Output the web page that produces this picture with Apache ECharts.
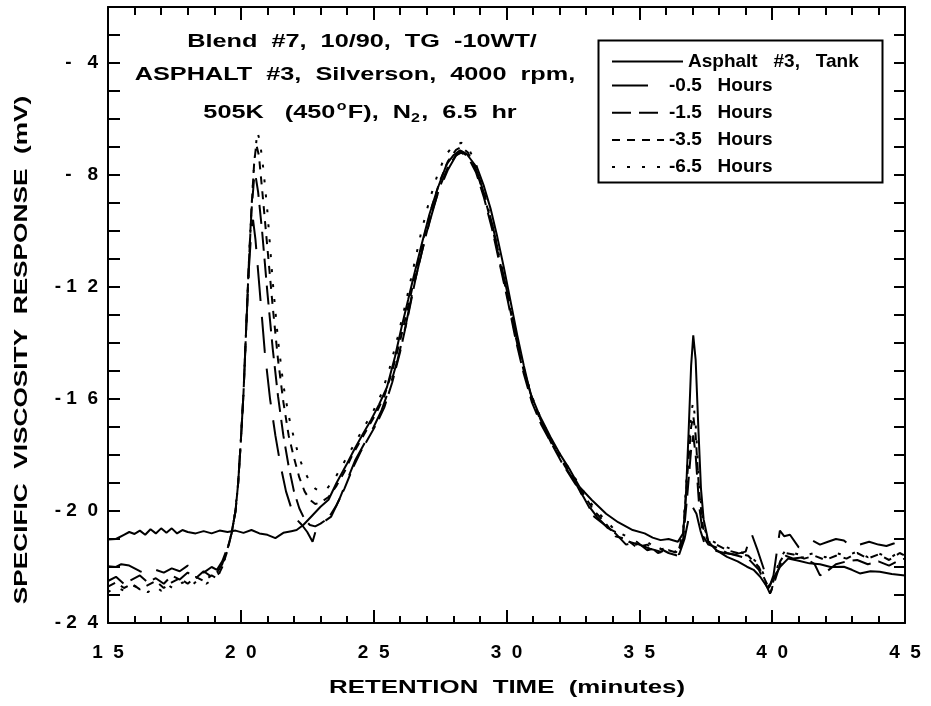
<!DOCTYPE html>
<html>
<head>
<meta charset="utf-8">
<script src="https://cdn.jsdelivr.net/npm/echarts@6/dist/echarts.min.js"></script>
<style>
  html, body { margin: 0; padding: 0; background: #fff; }
  #chart { width: 931px; height: 706px; }
</style>
</head>
<body>
<div id="chart"></div>
<script>
// retention time (min) vs specific viscosity response (mV)
const tank = [[15.0,-21.02],[15.3,-21.0],[15.6,-20.85],[15.8,-20.75],[16.0,-20.82],[16.2,-20.7],[16.4,-20.85],[16.6,-20.65],[16.8,-20.8],[17.0,-20.62],[17.2,-20.78],[17.4,-20.62],[17.6,-20.8],[17.8,-20.68],[18.0,-20.75],[18.3,-20.8],[18.6,-20.72],[18.9,-20.8],[19.2,-20.7],[19.5,-20.75],[19.8,-20.7],[20.1,-20.78],[20.4,-20.68],[20.7,-20.8],[21.0,-20.85],[21.3,-20.97],[21.6,-20.78],[21.9,-20.72],[22.1,-20.68],[22.35,-20.5],[22.7,-20.15],[23.0,-19.85],[23.3,-19.6],[23.6,-19.0],[24.0,-18.3],[24.3,-17.75],[24.6,-17.24],[24.9,-16.75],[25.2,-16.2],[25.5,-15.58],[25.8,-14.5],[26.05,-13.44],[26.3,-12.45],[26.5,-11.65],[26.8,-10.5],[27.1,-9.4],[27.4,-8.5],[27.75,-7.61],[28.0,-7.3],[28.25,-7.12],[28.5,-7.25],[28.9,-7.75],[29.15,-8.4],[29.4,-9.2],[29.65,-10.2],[29.9,-11.3],[30.15,-12.5],[30.4,-13.7],[30.65,-14.8],[30.9,-15.8],[31.25,-16.6],[31.65,-17.35],[32.0,-17.95],[32.4,-18.55],[32.75,-19.14],[33.2,-19.6],[33.75,-20.1],[34.2,-20.4],[34.75,-20.68],[35.2,-20.8],[35.5,-20.95],[35.8,-21.04],[36.1,-21.0],[36.45,-21.1],[36.65,-20.8],[36.75,-19.5],[36.85,-17.3],[36.95,-14.8],[37.03,-13.73],[37.12,-14.6],[37.22,-17.0],[37.32,-19.2],[37.42,-20.3],[37.6,-21.1],[37.9,-21.4],[38.3,-21.64],[38.7,-21.8],[39.05,-21.99],[39.3,-22.1],[39.55,-22.35],[39.85,-22.77],[40.05,-22.4],[40.3,-21.99],[40.6,-21.7],[41.0,-21.78],[41.4,-21.87],[41.8,-21.9],[42.2,-22.0],[42.7,-21.99],[43.0,-22.1],[43.3,-22.23],[43.7,-22.15],[44.05,-22.17],[44.5,-22.25],[45.0,-22.3]];

const h05 = [[15.0,-21.97],[15.3,-22.0],[15.5,-21.9],[15.8,-21.95],[16.0,-22.05],[16.2,-22.15],[16.5,-22.25],[16.8,-22.1],[17.1,-22.2],[17.4,-22.05],[17.7,-22.15],[18.0,-21.95],[18.3,-22.1],[18.6,-22.2],[18.9,-22.0],[19.1,-22.1],[19.3,-21.8],[19.5,-21.3],[19.65,-20.8],[19.8,-20.0],[19.9,-19.0],[20.0,-17.5],[20.1,-15.8],[20.2,-13.5],[20.3,-11.4],[20.4,-9.9],[20.46,-9.6],[20.55,-10.3],[20.7,-12.0],[20.9,-14.3],[21.1,-16.0],[21.3,-17.3],[21.5,-18.4],[21.7,-19.3],[21.9,-19.9],[22.1,-20.3],[22.3,-20.5],[22.5,-20.75],[22.7,-21.1],[22.85,-20.6],[23.1,-20.4],[23.4,-20.2],[23.7,-19.6],[24.0,-18.9],[24.3,-18.2],[24.7,-17.5],[25.0,-17.0],[25.3,-16.4],[25.6,-15.6],[25.9,-14.6],[26.2,-13.4],[26.5,-12.0],[26.8,-10.8],[27.1,-9.7],[27.4,-8.7],[27.8,-7.8],[28.1,-7.3],[28.3,-7.2],[28.6,-7.4],[28.9,-7.9],[29.2,-8.8],[29.5,-9.9],[29.8,-11.2],[30.1,-12.5],[30.4,-13.9],[30.7,-15.1],[31.0,-16.1],[31.4,-17.0],[31.8,-17.7],[32.2,-18.4],[32.6,-19.0],[33.0,-19.7],[33.4,-20.2],[33.8,-20.6],[34.2,-20.8],[34.6,-21.1],[35.0,-21.2],[35.4,-21.35],[35.8,-21.45],[36.2,-21.4],[36.5,-21.55],[36.7,-21.0],[36.85,-20.3],[37.0,-19.85],[37.15,-20.1],[37.3,-20.7],[37.5,-21.3],[37.8,-21.4],[38.2,-21.5],[38.6,-21.55],[39.0,-21.45],[39.22,-20.8],[39.45,-21.4],[39.66,-22.0],[39.9,-22.7],[40.05,-22.3],[40.17,-21.5],[40.29,-20.7],[40.45,-20.9],[40.67,-20.85],[41.0,-21.3],[41.5,-21.05],[41.8,-21.2],[42.1,-21.1],[42.4,-21.0],[42.7,-21.05],[43.0,-21.3],[43.3,-21.2],[43.65,-21.1],[44.0,-21.2],[44.3,-21.25],[44.6,-21.15],[45.0,-21.0]];

const h15 = [[15.0,-22.5],[15.3,-22.35],[15.6,-22.6],[15.9,-22.45],[16.2,-22.3],[16.5,-22.55],[16.8,-22.4],[17.1,-22.6],[17.4,-22.3],[17.7,-22.45],[18.0,-22.2],[18.3,-22.4],[18.6,-22.15],[18.9,-22.35],[19.1,-22.2],[19.3,-21.9],[19.5,-21.35],[19.65,-20.8],[19.8,-20.0],[19.9,-19.0],[20.0,-17.5],[20.1,-15.8],[20.2,-13.5],[20.3,-11.2],[20.4,-9.3],[20.5,-8.1],[20.55,-8.0],[20.65,-8.6],[20.8,-10.0],[21.0,-12.2],[21.2,-14.2],[21.4,-15.9],[21.6,-17.3],[21.8,-18.4],[22.0,-19.3],[22.2,-19.9],[22.4,-20.3],[22.6,-20.5],[22.8,-20.55],[23.0,-20.45],[23.3,-20.25],[23.6,-19.8],[23.9,-19.2],[24.2,-18.5],[24.5,-17.9],[24.8,-17.4],[25.1,-16.9],[25.4,-16.3],[25.7,-15.4],[26.0,-14.3],[26.3,-13.0],[26.6,-11.6],[26.9,-10.4],[27.2,-9.3],[27.5,-8.4],[27.8,-7.7],[28.1,-7.3],[28.3,-7.15],[28.55,-7.35],[28.85,-7.9],[29.15,-8.8],[29.45,-9.9],[29.75,-11.2],[30.05,-12.5],[30.35,-13.9],[30.65,-15.1],[30.95,-16.1],[31.3,-16.9],[31.7,-17.6],[32.1,-18.3],[32.5,-18.9],[32.9,-19.5],[33.3,-20.2],[33.7,-20.5],[34.1,-20.8],[34.5,-21.2],[34.9,-21.1],[35.3,-21.4],[35.7,-21.3],[36.1,-21.5],[36.45,-21.6],[36.65,-21.0],[36.8,-19.5],[36.95,-17.8],[37.03,-17.3],[37.12,-18.0],[37.25,-19.8],[37.4,-20.9],[37.6,-21.2],[37.9,-21.3],[38.3,-21.5],[38.7,-21.6],[39.1,-21.7],[39.5,-22.1],[39.75,-22.6],[39.92,-22.95],[40.1,-22.5],[40.3,-21.9],[40.5,-21.6],[40.8,-21.7],[41.2,-21.65],[41.6,-21.9],[41.8,-22.3],[42.0,-22.2],[42.4,-21.9],[42.8,-21.8],[43.2,-21.75],[43.6,-21.9],[44.0,-21.8],[44.4,-21.95],[44.8,-21.75],[45.0,-21.7]];

const h35 = [[15.0,-22.7],[15.3,-22.55],[15.6,-22.75],[15.9,-22.6],[16.2,-22.8],[16.5,-22.65],[16.8,-22.5],[17.1,-22.75],[17.4,-22.55],[17.7,-22.4],[18.0,-22.6],[18.3,-22.35],[18.6,-22.5],[18.9,-22.3],[19.1,-22.4],[19.3,-22.0],[19.5,-21.4],[19.65,-20.8],[19.8,-20.0],[19.9,-19.0],[20.0,-17.5],[20.1,-15.8],[20.2,-13.5],[20.3,-11.2],[20.4,-9.2],[20.5,-7.6],[20.58,-6.9],[20.68,-7.3],[20.8,-8.5],[21.0,-10.6],[21.2,-12.7],[21.4,-14.6],[21.6,-16.1],[21.8,-17.3],[22.0,-18.1],[22.2,-18.8],[22.4,-19.3],[22.6,-19.6],[22.8,-19.75],[23.0,-19.7],[23.3,-19.5],[23.6,-19.1],[23.9,-18.6],[24.2,-18.0],[24.5,-17.5],[24.8,-17.0],[25.1,-16.5],[25.4,-15.9],[25.7,-15.0],[26.0,-13.9],[26.3,-12.7],[26.6,-11.4],[26.9,-10.2],[27.2,-9.1],[27.5,-8.2],[27.8,-7.5],[28.1,-7.1],[28.3,-7.0],[28.55,-7.2],[28.85,-7.8],[29.15,-8.7],[29.45,-9.8],[29.75,-11.1],[30.05,-12.4],[30.35,-13.8],[30.65,-15.0],[30.95,-16.0],[31.3,-16.8],[31.7,-17.6],[32.1,-18.2],[32.5,-18.8],[32.9,-19.4],[33.3,-20.0],[33.7,-20.4],[34.1,-20.9],[34.5,-21.0],[34.9,-21.3],[35.3,-21.2],[35.7,-21.5],[36.1,-21.4],[36.45,-21.5],[36.65,-20.8],[36.8,-18.8],[36.95,-17.0],[37.03,-16.6],[37.12,-17.3],[37.25,-19.3],[37.4,-20.6],[37.6,-21.1],[37.9,-21.2],[38.3,-21.4],[38.7,-21.5],[39.1,-21.6],[39.5,-22.0],[39.75,-22.5],[39.95,-22.9],[40.1,-22.4],[40.3,-21.8],[40.5,-21.5],[40.8,-21.55],[41.2,-21.7],[41.6,-21.6],[42.0,-21.75],[42.4,-21.6],[42.8,-21.7],[43.2,-21.5],[43.6,-21.7],[44.0,-21.55],[44.4,-21.75],[44.8,-21.5],[45.0,-21.6]];

const h65 = [[15.0,-22.9],[15.3,-22.7],[15.6,-22.85],[15.9,-22.65],[16.2,-22.75],[16.5,-22.9],[16.8,-22.7],[17.0,-22.85],[17.2,-22.6],[17.5,-22.8],[17.8,-22.55],[18.1,-22.7],[18.4,-22.45],[18.7,-22.6],[19.0,-22.4],[19.2,-22.2],[19.4,-21.7],[19.6,-21.0],[19.75,-20.3],[19.9,-19.0],[20.0,-17.5],[20.1,-15.8],[20.2,-13.5],[20.3,-11.2],[20.4,-9.2],[20.5,-7.6],[20.62,-6.45],[20.72,-6.8],[20.85,-7.8],[21.0,-9.3],[21.2,-11.8],[21.4,-13.9],[21.6,-15.5],[21.8,-16.6],[22.0,-17.4],[22.2,-18.1],[22.4,-18.6],[22.6,-18.95],[22.8,-19.2],[23.0,-19.3],[23.2,-19.25],[23.5,-18.9],[23.8,-18.4],[24.1,-17.9],[24.4,-17.4],[24.7,-16.9],[25.0,-16.4],[25.3,-15.8],[25.6,-14.9],[25.9,-13.8],[26.2,-12.6],[26.5,-11.3],[26.8,-10.0],[27.1,-8.9],[27.4,-8.0],[27.7,-7.3],[28.0,-6.95],[28.3,-6.85],[28.55,-7.0],[28.85,-7.6],[29.15,-8.6],[29.45,-9.7],[29.75,-11.0],[30.05,-12.3],[30.35,-13.7],[30.65,-14.9],[30.95,-15.9],[31.3,-16.7],[31.7,-17.5],[32.1,-18.1],[32.5,-18.7],[32.9,-19.3],[33.3,-19.9],[33.7,-20.3],[34.1,-20.7],[34.5,-20.9],[34.9,-21.2],[35.3,-21.1],[35.7,-21.4],[36.1,-21.3],[36.45,-21.5],[36.65,-20.7],[36.8,-18.5],[36.95,-16.5],[37.03,-16.1],[37.12,-16.9],[37.25,-19.0],[37.4,-20.5],[37.6,-21.0],[37.9,-21.15],[38.3,-21.3],[38.7,-21.45],[39.1,-21.55],[39.5,-21.9],[39.75,-22.4],[39.95,-22.85],[40.1,-22.3],[40.3,-21.7],[40.5,-21.4],[40.8,-21.5],[41.2,-21.6],[41.6,-21.5],[42.0,-21.65],[42.4,-21.5],[42.8,-21.6],[43.2,-21.45],[43.6,-21.65],[44.0,-21.5],[44.4,-21.7],[44.8,-21.45],[45.0,-21.55]];

const seriesNames = ['Asphalt   #3,   Tank', '-0.5   Hours', '-1.5   Hours', '-3.5   Hours', '-6.5   Hours'];
const xTickValues = [15, 20, 25, 30, 35, 40, 45];
const xTickText = ['1  5', '2  0', '2  5', '3  0', '3  5', '4  0', '4  5'];
const yTickValues = [-24, -20, -16, -12, -8, -4];
const yTickText = ['- 2  4', '- 2  0', '- 1  6', '- 1  2', '-   8', '-   4'];

const FONT = '"Liberation Sans", Arial, sans-serif';
const chart = echarts.init(document.getElementById('chart'));

const dashes = ['solid', [36, 16], [19, 8], [8, 7], [3, 12]];
const allData = [tank, h05, h15, h35, h65];

function line(i) {
  return {
    name: seriesNames[i],
    type: 'line',
    data: allData[i],
    symbol: 'none',
    animation: false,
    lineStyle: { color: '#000', width: 2, type: dashes[i], cap: 'butt' },
    itemStyle: { color: '#000' }
  };
}

// the reference lettering is widely tracked, so the free texts are stretched a bit
function label(text, x, y, extra) {
  return Object.assign({
    type: 'text', x: x, y: y, scaleX: 1.33, silent: true, z: 20,
    style: { text: text, fontFamily: FONT, fontWeight: 'bold', fontSize: 19, fill: '#000',
      align: 'center', verticalAlign: 'middle' }
  }, extra || {});
}

const tickText = { color: '#000', fontFamily: FONT, fontWeight: 'bold', fontSize: 19 };
const legendText = { fontFamily: FONT, fontWeight: 'bold', fontSize: 19, color: '#000', lineHeight: 17 };

chart.setOption({
  animation: false,
  grid: { left: 108, right: 26, top: 7, bottom: 83 },
  legend: [
    { data: [seriesNames[0]], left: 611, top: 52, orient: 'vertical',
      itemWidth: 71, itemHeight: 14, padding: 0, selectedMode: false,
      itemStyle: { opacity: 0 }, textStyle: legendText },
    { data: seriesNames.slice(1), left: 611, top: 76, orient: 'vertical',
      itemWidth: 52, itemHeight: 14, itemGap: 8.2, padding: 0, selectedMode: false,
      itemStyle: { opacity: 0 }, textStyle: legendText }
  ],
  xAxis: [
    { type: 'value', min: 15, max: 45, interval: 5, position: 'bottom',
      axisLine: { onZero: false, lineStyle: { color: '#000', width: 2 } },
      axisTick: { inside: true, length: 13, lineStyle: { color: '#000', width: 2 } },
      minorTick: { show: true, splitNumber: 5, length: 7, lineStyle: { color: '#000', width: 2 } },
      splitLine: { show: false },
      axisLabel: { margin: 20, ...tickText,
        formatter: v => { const k = xTickValues.indexOf(v); return k < 0 ? '' : xTickText[k]; } } },
    { type: 'value', min: 15, max: 45, interval: 5, position: 'top',
      axisLine: { onZero: false, lineStyle: { color: '#000', width: 2 } },
      axisTick: { inside: true, length: 13, lineStyle: { color: '#000', width: 2 } },
      minorTick: { show: true, splitNumber: 5, length: 8, lineStyle: { color: '#000', width: 2 } },
      splitLine: { show: false }, axisLabel: { show: false } }
  ],
  yAxis: [
    { type: 'value', min: -24, max: -2, interval: 1, position: 'left',
      axisLine: { onZero: false, lineStyle: { color: '#000', width: 2 } },
      axisTick: { inside: true, length: 12, lineStyle: { color: '#000', width: 2 } },
      splitLine: { show: false },
      axisLabel: { margin: 10, ...tickText,
        formatter: v => { const k = yTickValues.indexOf(v); return k < 0 ? '' : yTickText[k]; } } },
    { type: 'value', min: -24, max: -2, interval: 1, position: 'right',
      axisLine: { onZero: false, lineStyle: { color: '#000', width: 2 } },
      axisTick: { inside: true, length: 11, lineStyle: { color: '#000', width: 2 } },
      splitLine: { show: false }, axisLabel: { show: false } }
  ],
  graphic: [
    { type: 'rect', left: 596, top: 38, z: 10, silent: true,
      shape: { width: 284, height: 142 },
      style: { fill: 'none', stroke: '#000', lineWidth: 2 } },
    label('Blend  #7,  10/90,  TG  -10WT/', 362, 42),
    label('ASPHALT  #3,  Silverson,  4000  rpm,', 355, 75),
    label('505K   (450{sup|o}F),  N{sub|2},  6.5  hr', 360, 113),
    label('RETENTION  TIME  (minutes)', 507, 688, { scaleX: 1.36 }),
    label('SPECIFIC  VISCOSITY  RESPONSE  (mV)', 22, 350, { rotation: Math.PI / 2, scaleX: 1.38 })
  ],
  series: [0, 1, 2, 3, 4].map(line)
});

// rich parts for the degree sign and the subscript on the third title line
chart.setOption({
  graphic: [{}, {}, {}, {
    style: {
      rich: {
        sup: { fontFamily: FONT, fontWeight: 'bold', fontSize: 12, fill: '#000', padding: [0, 1, 12, 1] },
        sub: { fontFamily: FONT, fontWeight: 'bold', fontSize: 12, fill: '#000', padding: [12, 1, 0, 0] }
      }
    }
  }]
});
</script>
</body>
</html>
